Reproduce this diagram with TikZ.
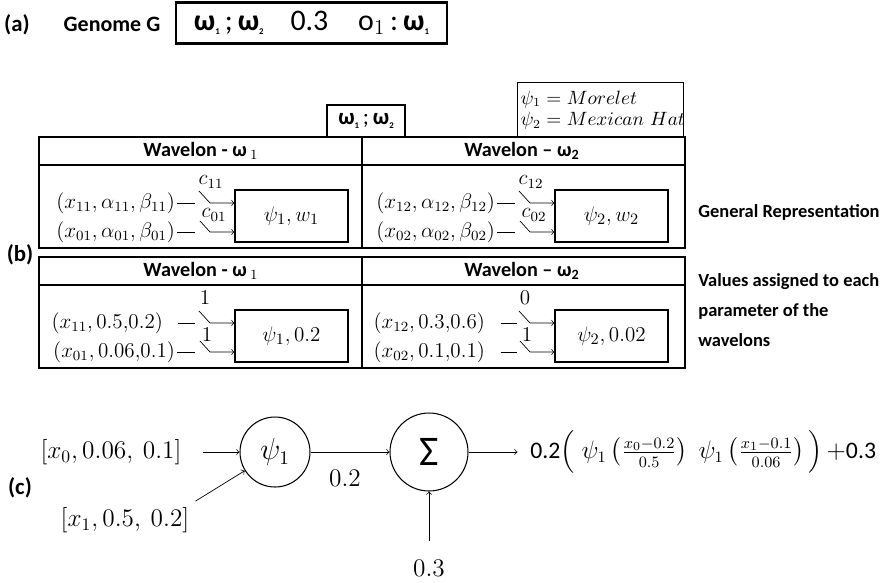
\documentclass[tikz,border=0pt]{standalone}
\usepackage{amsmath,amssymb}
\usepackage[no-math]{fontspec}
\setmainfont{Carlito}
\usepackage{tikz}

\newcommand{\bw}[1]{\textbf{ω}\raisebox{-0.3ex}{\fontsize{5}{5}\selectfont\bfseries #1}}

\begin{document}
\begin{tikzpicture}[x=0.02cm,y=-0.02cm,>=to,
  lbl/.style={font=\fontsize{13}{15}\selectfont\bfseries},
  hdr/.style={font=\fontsize{11.5}{13}\selectfont\bfseries},
  inp/.style={anchor=east,inner sep=1pt,font=\fontsize{12}{14}\selectfont},
  sw/.style={inner sep=0pt,font=\fontsize{12}{14}\selectfont},
  wbox/.style={draw,line width=0.6pt,minimum width=2.26cm,minimum height=1.04cm,font=\fontsize{13}{15}\selectfont},
  tab/.style={line width=1.2pt},
  gap/.style={shorten <=0.27cm},
  note/.style={anchor=west,align=left,inner sep=0pt,font=\fontsize{10.5}{17}\selectfont\bfseries},
  unit/.style={draw,circle,line width=0.6pt,inner sep=0pt},
  big/.style={font=\fontsize{14}{16}\selectfont}]
\useasboundingbox (0,0) rectangle (896,582);

% (a) genome
\node[lbl] (alabel) at (17,25) {(a)};
\node[font=\fontsize{12.5}{14}\selectfont\bfseries] (gname) at (112,24) {Genome G};
\node[draw,line width=1.2pt,minimum width=5.42cm,minimum height=0.82cm,font=\fontsize{17}{20}\selectfont] (genome) at (311.5,23)
  {\bw{1}\,;\,\bw{2}\hspace{0.9em}0.3\hspace{1em}o$_1$\,:\,\bw{1}};

% (b) tables
\node[lbl] (blabel) at (20,255) {(b)};
\node[draw,line width=1.2pt,minimum width=1.56cm,minimum height=0.64cm,font=\fontsize{13}{15}\selectfont] (pair) at (366,121) {\bw{1}\,;\,\bw{2}};
\node[draw,line width=0.8pt,anchor=north west,text width=3.2cm,inner sep=0.06cm,minimum height=1.1cm,align=left,font=\fontsize{10.5}{12.5}\selectfont] (mother) at (517,82)
  {\mbox{$\psi_1 = Morelet$}\\\mbox{$\psi_2 = Mexican\ Hat$}};

\draw[tab] (39,137) rectangle (685,248);
\draw[tab] (39,165) -- (685,165);
\draw[tab] (362,137) -- (362,248);
\draw[tab] (39,257) rectangle (685,368);
\draw[tab] (39,285) -- (685,285);
\draw[tab] (362,257) -- (362,368);

\node[hdr] (h1) at (201,151) {Wavelon - ω\,$_1$};
\node[hdr] (h2) at (522,151) {Wavelon – ω\textsubscript{2}};
\node[hdr] (h3) at (201,271) {Wavelon - ω\,$_1$};
\node[hdr] (h4) at (522,271) {Wavelon – ω\textsubscript{2}};

% general representation
\node[wbox] (w1) at (291.5,216) {$\psi_1, w_1$};
\node[inp] (p11) at (177,203) {$(x_{11},\alpha_{11},\beta_{11})$};
\node[inp] (p01) at (177,232) {$(x_{01},\alpha_{01},\beta_{01})$};
\coordinate (d11) at (195,203);
\coordinate (t11) at (199,191);
\coordinate (k11) at (210,203);
\coordinate (d01) at (195,232);
\coordinate (t01) at (200,221);
\coordinate (k01) at (210,232);
\draw (p11) -- (d11);
\draw (p01) -- (d01);
\draw[->] (t11) -- (k11) -- (k11 -| w1.west);
\draw[->] (t01) -- (k01) -- (k01 -| w1.west);
\node[sw] (c11) at (211,182) {$c_{11}$};
\node[sw] (c01) at (214,215) {$c_{01}$};

\node[wbox] (w2) at (611.5,216) {$\psi_2, w_2$};
\node[inp] (p12) at (497,203) {$(x_{12},\alpha_{12},\beta_{12})$};
\node[inp] (p02) at (497,232) {$(x_{02},\alpha_{02},\beta_{02})$};
\coordinate (d12) at (515,203);
\coordinate (t12) at (519,191);
\coordinate (k12) at (530,203);
\coordinate (d02) at (515,232);
\coordinate (t02) at (520,221);
\coordinate (k02) at (530,232);
\draw (p12) -- (d12);
\draw (p02) -- (d02);
\draw[->] (t12) -- (k12) -- (k12 -| w2.west);
\draw[->] (t02) -- (k02) -- (k02 -| w2.west);
\node[sw] (c12) at (531,182) {$c_{12}$};
\node[sw] (c02) at (534,215) {$c_{02}$};

\node[note] (gen) at (698,212) {General Representation};

% values
\node[wbox] (v1) at (291.5,336) {$\psi_1, 0.2$};
\node[inp] (q11) at (165,323) {$(x_{11},0.5{,}0.2)$};
\node[inp] (q01) at (177,352) {$(x_{01},0.06{,}0.1)$};
\coordinate (e11) at (195,323);
\coordinate (s11) at (199,311);
\coordinate (m11) at (210,323);
\coordinate (e01) at (195,352);
\coordinate (s01) at (200,341);
\coordinate (m01) at (210,352);
\draw[gap] (q11) -- (e11);
\draw (q01) -- (e01);
\draw[->] (s11) -- (m11) -- (m11 -| v1.west);
\draw[->] (s01) -- (m01) -- (m01 -| v1.west);
\node[sw] (n11) at (205,298) {$1$};
\node[sw] (n01) at (207,335) {$1$};

\node[wbox] (v2) at (611.5,336) {$\psi_2, 0.02$};
\node[inp] (q12) at (487,323) {$(x_{12},0.3{,}0.6)$};
\node[inp] (q02) at (487,352) {$(x_{02},0.1{,}0.1)$};
\coordinate (e12) at (517,323);
\coordinate (s12) at (519,311);
\coordinate (m12) at (530,323);
\coordinate (e02) at (517,352);
\coordinate (s02) at (520,341);
\coordinate (m02) at (530,352);
\draw[gap] (q12) -- (e12);
\draw[gap] (q02) -- (e02);
\draw[->] (s12) -- (m12) -- (m12 -| v2.west);
\draw[->] (s02) -- (m02) -- (m02 -| v2.west);
\node[sw] (n12) at (525,298) {$0$};
\node[sw] (n02) at (527,335) {$1$};

\node[note] (vals) at (698,310) {Values assigned to each\\parameter of the\\wavelons};

% (c) network
\node[lbl] (clabel) at (20,488) {(c)};
\node[big] (x0in) at (111,452) {$[x_0, 0.06,\ 0.1]$};
\node[big] (x1in) at (125,520) {$[x_1, 0.5,\ 0.2]$};
\node[unit,minimum size=1.4cm,font=\fontsize{16}{18}\selectfont] (psi) at (275,452) {$\psi_1$};
\node[unit,minimum size=1.56cm,font=\fontsize{24}{26}\selectfont] (sig) at (429,452) {Σ};
\node[big] (wt) at (345,478) {$0.2$};
\node[big] (bias) at (429,568) {$0.3$};
\node[anchor=west,inner sep=0pt,font=\fontsize{13.5}{16}\selectfont] (out) at (530,452)
  {$\text{0.2}\Big(\;\psi_1\left(\tfrac{x_0-0.2}{0.5}\right)\;\psi_1\left(\tfrac{x_1-0.1}{0.06}\right)\Big)$\,$+$0.3};
\draw[->,shorten <=0.3cm] (x0in) -- (psi);
\draw[->] (x1in.north east) -- (psi);
\draw[->] (psi) -- (sig);
\draw[->,shorten <=0.25cm] (bias) -- (sig);
\draw[->,shorten >=0.25cm] (sig) -- (out);
\end{tikzpicture}
\end{document}
